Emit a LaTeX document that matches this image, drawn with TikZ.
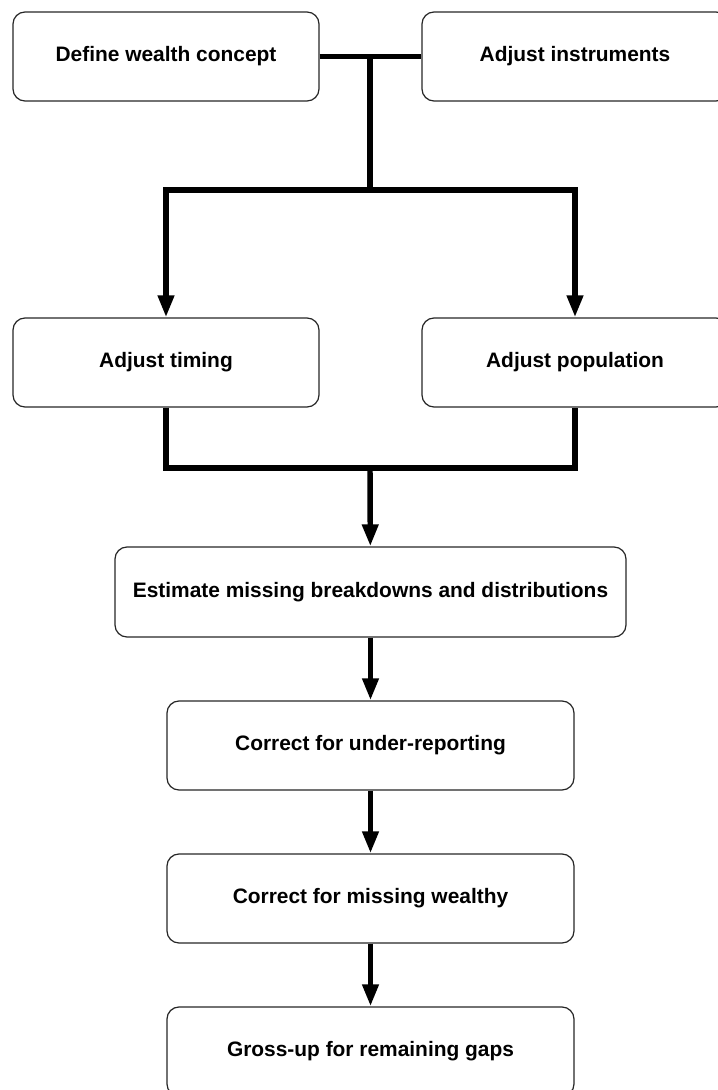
\documentclass[tikz,border=0pt]{standalone}
\usepackage{fontspec}
\setmainfont{Liberation Sans}
\usetikzlibrary{calc, arrows.meta, positioning}

\begin{document}
\begin{tikzpicture}[auto, >={Triangle[length=4.4mm, width=3.1mm]}, node distance = 1 cm]
	\tikzstyle{stage} = [draw=black!85, line width=0.7pt, rounded corners=2.4mm, minimum width=6.12cm, minimum height=1.78cm, inner sep=0pt, align=center, font=\fontsize{11.9}{14}\selectfont\bfseries]
	\tikzstyle{link} = [line width=3.1pt, black]
	
	\useasboundingbox (0, 0) rectangle (14.34, -21.8);
	
	\node[stage] 	at (3.32, -1.13) 	(define) 	{Define wealth concept};
	\node[stage] 	at (11.5, -1.13) 	(instr) 	{Adjust instruments};
	\node[stage] 	at (3.32, -7.25) 	(timing) 	{Adjust timing};
	\node[stage] 	at (11.5, -7.25) 	(pop) 		{Adjust population};
	\node[stage, minimum width=10.22cm, minimum height=1.8cm] 	at (7.41, -11.84) 	(est) 	{Estimate missing breakdowns and distributions};
	\node[stage, minimum width=8.14cm] 	at (7.41, -14.91) 	(under) 	{Correct for under-reporting};
	\node[stage, minimum width=8.14cm] 	at (7.41, -17.97) 	(wealthy) 	{Correct for missing wealthy};
	\node[stage, minimum width=8.14cm] 	at (7.41, -21.03) 	(gross) 	{Gross-up for remaining gaps};
	
	\coordinate (join) 	at (7.4, -1.13);
	\coordinate (split) at (7.4, -3.8);
	\coordinate (merge) at (7.4, -9.36);
	
	\draw[link] (define) -- (instr);
	\draw[link] (join) -- (split);
	\draw[link, ->] (split) -| (timing);
	\draw[link, ->] (split) -| (pop);
	\draw[link] (timing) |- (merge) -| (pop);
	
	\path[link, ->]
	(merge)		edge	(est)
	(est)		edge	(under)
	(under)		edge	(wealthy)
	(wealthy)	edge	(gross);
\end{tikzpicture}
\end{document}
